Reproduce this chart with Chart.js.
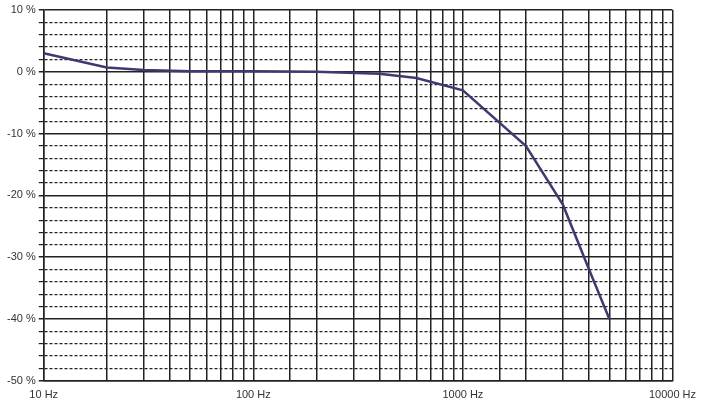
<!DOCTYPE html>
<html>
<head>
<meta charset="utf-8">
<script src="https://cdn.jsdelivr.net/npm/chart.js@4"></script>
<style>
  html, body { margin: 0; padding: 0; background: #fff; }
  #wrap { width: 704px; height: 412px; }
</style>
</head>
<body>
<div id="wrap"><canvas id="freqChart"></canvas></div>
<script>
const freqs = [10, 20, 30, 50, 100, 200, 400, 600, 1000, 2000, 3000, 4000, 5000];
const deviation = [3, 0.7, 0.3, 0.1, 0.1, 0, -0.3, -1, -3, -12, -21.5, -32, -40];
const xTickLabels = [10, 100, 1000, 10000];

const ctx = document.getElementById("freqChart");

new Chart(ctx, {
    type: "line",
    data: {
        datasets: [{
            data: freqs.map((f, i) => ({ x: f, y: deviation[i] })),
            borderColor: "#3d3a70",
            borderWidth: 2.5,
            pointRadius: 0,
            tension: 0
        }]
    },
    options: {
        responsive: true,
        maintainAspectRatio: false,
        animation: false,
        layout: { padding: { top: 10, right: 26, bottom: 2, left: 4 } },
        plugins: {
            legend: { display: false },
            tooltip: { enabled: false }
        },
        scales: {
            x: {
                type: "logarithmic",
                min: 10,
                max: 10000,
                grid: { color: "#222", lineWidth: 1.5, drawTicks: false },
                border: { color: "#222", width: 1.5 },
                ticks: {
                    color: "#333",
                    font: { family: "Liberation Sans", size: 11 },
                    maxRotation: 0,
                    autoSkip: false,
                    padding: 8,
                    callback: v => xTickLabels.includes(v) ? v + " Hz" : ""
                }
            },
            y: {
                min: -50,
                max: 10,
                grid: {
                    color: "#222",
                    lineWidth: ctx => ctx.tick && ctx.tick.value % 10 === 0 ? 1.5 : 1.2,
                    drawTicks: true,
                    tickLength: 5
                },
                border: {
                    color: "#222",
                    width: 1.5,
                    dash: ctx => ctx.tick && ctx.tick.value % 10 === 0 ? [] : [3, 2]
                },
                ticks: {
                    stepSize: 2,
                    autoSkip: false,
                    color: "#333",
                    font: { family: "Liberation Sans", size: 11 },
                    callback: v => v % 10 === 0 ? v + " %" : ""
                }
            }
        }
    }
});
</script>
</body>
</html>
